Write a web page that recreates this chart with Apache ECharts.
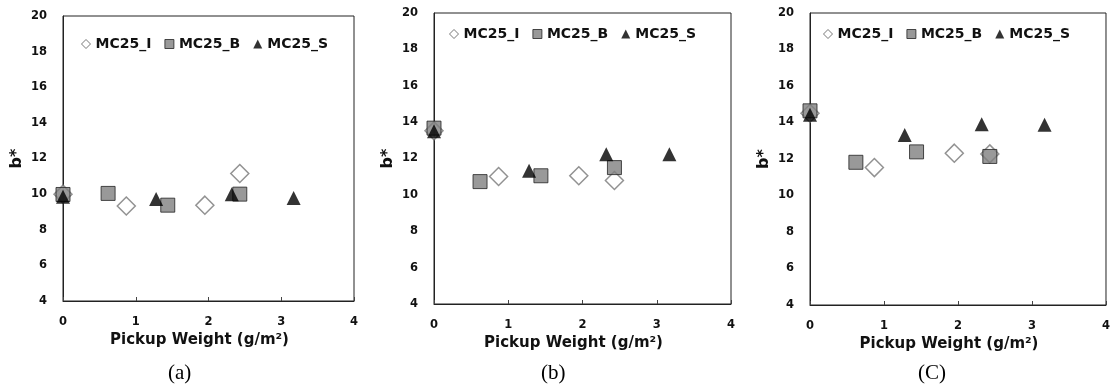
<!DOCTYPE html>
<html>
<head>
<meta charset="utf-8">
<script src="https://cdn.jsdelivr.net/npm/echarts@6/dist/echarts.min.js"></script>
<style>
  html, body { margin: 0; padding: 0; background: #fff; }
  #chart { width: 1113px; height: 385px; }
</style>
</head>
<body>
<div id="chart"></div>
<script>
// x positions (pickup weight, g/m2) for each sample type
const pickupI = [0, 0.87, 1.95, 2.43];
const pickupB = [0, 0.62, 1.44, 2.43];
const pickupS = [0, 1.28, 2.32, 3.17];

// b* values
const bI_a = [10.0, 9.33, 9.38, 11.16];
const bB_a = [9.98, 10.04, 9.38, 10.0];
const bS_a = [9.85, 9.72, 10.0, 9.78];

const bI_b = [13.52, 11.01, 11.05, 10.79];
const bB_b = [13.67, 10.73, 11.05, 11.5];
const bS_b = [13.5, 11.32, 12.24, 12.24];

const bI_c = [14.51, 11.53, 12.32, 12.28];
const bB_c = [14.64, 11.82, 12.39, 12.14];
const bS_c = [14.42, 13.32, 13.91, 13.87];

const seriesNames = ['MC25_I', 'MC25_B', 'MC25_S'];
const panelLabels = ['(a)', '(b)', '(C)'];

const chart = echarts.init(document.getElementById('chart'));

const txt = '#111';
const font = 'DejaVu Sans';

// layout of each panel
const panels = [
  { grid: { left: 63, top: 16, width: 291, height: 285 }, legend: { left: 81, top: 37 }, tag: 182, data: [bI_a, bB_a, bS_a] },
  { grid: { left: 434, top: 13, width: 297, height: 291 }, legend: { left: 449, top: 27 }, tag: 555, data: [bI_b, bB_b, bS_b] },
  { grid: { left: 810, top: 13, width: 299, height: 292 }, legend: { left: 823, top: 27 }, tag: 932, data: [bI_c, bB_c, bS_c] }
];

const xs = [pickupI, pickupB, pickupS];
const styles = [
  { symbol: 'diamond', symbolSize: 18, itemStyle: { color: '#fff', borderColor: '#777', borderWidth: 1.5 } },
  { symbol: 'rect', symbolSize: 14, itemStyle: { color: '#7f7f7f', borderColor: '#222', borderWidth: 1 } },
  { symbol: 'triangle', symbolSize: [14, 14], itemStyle: { color: '#000' } }
];

const grids = [], xAxes = [], yAxes = [], series = [], legends = [], graphics = [];

panels.forEach((p, i) => {
  grids.push(Object.assign({ show: true, borderColor: '#222', borderWidth: 1 }, p.grid));
  xAxes.push({
    gridIndex: i, type: 'value', min: 0, max: 4, interval: 1,
    name: 'Pickup Weight (g/m²)', nameLocation: 'middle', nameGap: 31,
    nameTextStyle: { fontFamily: font, fontWeight: 'bold', fontSize: 15, color: txt, padding: [0, 18, 0, 0] },
    axisLine: { show: true, lineStyle: { color: '#222', width: 1 } },
    axisTick: { show: true, inside: true, length: 4, lineStyle: { color: '#444' } },
    axisLabel: { fontFamily: font, fontWeight: 'bold', fontSize: 11.5, color: txt, margin: 15 },
    splitLine: { show: false }
  });
  yAxes.push({
    gridIndex: i, type: 'value', min: 4, max: 20, interval: 2,
    name: 'b*', nameLocation: 'middle', nameGap: 38, nameRotate: 90,
    nameTextStyle: { fontFamily: font, fontWeight: 'bold', fontSize: 16, color: txt },
    axisLine: { show: true, lineStyle: { color: '#222', width: 1 } },
    axisTick: { show: false },
    axisLabel: { fontFamily: font, fontWeight: 'bold', fontSize: 11.5, color: txt, margin: 16 },
    splitLine: { show: false }
  });
  seriesNames.forEach((name, k) => {
    series.push(Object.assign({
      name: name, type: 'scatter', xAxisIndex: i, yAxisIndex: i,
      data: xs[k].map((x, j) => [x, p.data[k][j]])
    }, styles[k]));
  });
  legends.push({
    left: p.legend.left, top: p.legend.top, padding: 0,
    itemWidth: 9, itemHeight: 9, itemGap: 13,
    textStyle: { fontFamily: font, fontWeight: 'bold', fontSize: 14, color: txt },
    data: [
      { name: 'MC25_I', icon: 'diamond', itemStyle: { color: '#fff', borderColor: '#555', borderWidth: 1 } },
      { name: 'MC25_B', icon: 'rect', itemStyle: { color: '#7f7f7f', borderColor: '#222', borderWidth: 1 } },
      { name: 'MC25_S', icon: 'triangle', itemStyle: { color: '#000' } }
    ]
  });
  graphics.push({
    type: 'text', left: p.tag - 14, top: 363,
    style: { text: panelLabels[i], font: '21px "Liberation Serif"', fill: '#000' }
  });
});

chart.setOption({
  animation: false,
  grid: grids,
  xAxis: xAxes,
  yAxis: yAxes,
  legend: legends,
  series: series,
  graphic: graphics
});
</script>
</body>
</html>
